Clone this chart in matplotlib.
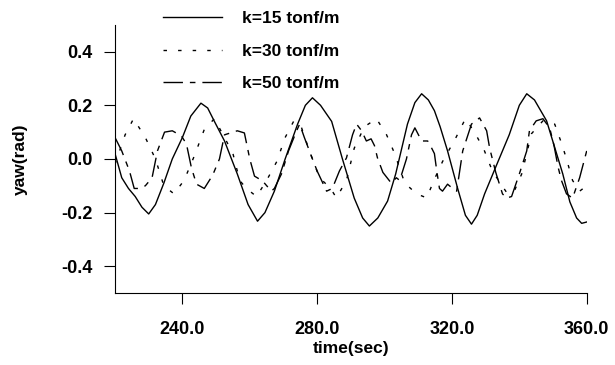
import matplotlib
matplotlib.use("Agg")
import matplotlib.pyplot as plt

plt.rcParams['font.family'] = ['Liberation Sans', 'DejaVu Sans']
plt.rcParams['font.weight'] = 'bold'

# k=15 tonf/m (solid)
t15 = [220, 222, 224, 226, 228, 230, 232, 234.5, 237, 240, 242.5, 245.5, 247.5,
       249.5, 252.5, 256.3, 259.5, 262.3, 264.5, 267.3, 270.5, 274.2, 276.5, 278.6,
       281, 284.3, 287.5, 291, 293.5, 295.5, 298, 300.9, 303.3, 306.8, 309, 311,
       313, 314.8, 316.5, 318.7, 321.7, 324, 325.8, 327.5, 329.7, 333, 337, 340,
       342.2, 344.5, 348.1, 352.9, 355, 357, 358.5, 360]
y15 = [0.02, -0.07, -0.11, -0.14, -0.18, -0.205, -0.17, -0.09, 0.0, 0.08, 0.16, 0.208, 0.19,
       0.14, 0.067, -0.056, -0.17, -0.232, -0.2, -0.12, 0.0, 0.13, 0.2, 0.228,
       0.2, 0.14, 0.0, -0.146, -0.22, -0.25, -0.22, -0.157, -0.056, 0.13, 0.21, 0.243,
       0.22, 0.18, 0.12, 0.03, -0.11, -0.21, -0.243, -0.21, -0.13, -0.03, 0.09, 0.2,
       0.243, 0.22, 0.142, -0.056, -0.16, -0.22, -0.24, -0.235]

# k=30 tonf/m (sparse dashes)
t30 = [220, 223, 225.5, 229, 232, 234.5, 237.5, 240.5, 243.5, 246.5, 249.5, 252.5,
       255, 257, 259, 262, 265, 268, 270.5, 273, 275, 277.7, 280.7, 284, 285.7,
       288.7, 291, 294, 297.6, 300.6, 303, 306, 309.5, 312.5, 315, 317.2, 321, 324,
       326.7, 329.5, 332, 336.5, 338.5, 340.7, 342, 343.6, 347, 350.5, 352.6, 354,
       355.8, 357.9, 360]
y30 = [-0.02, 0.09, 0.15, 0.08, 0.0, -0.10, -0.13, -0.08, 0.01, 0.11, 0.15, 0.08,
       0.02, -0.08, -0.11, -0.14, -0.08, -0.01, 0.08, 0.14, 0.13, 0.03, -0.07, -0.11, -0.145,
       -0.08, 0.04, 0.12, 0.15, 0.09, 0.02, -0.09, -0.13, -0.145, -0.07, -0.01, 0.075, 0.15,
       0.10, 0.035, -0.045, -0.13, -0.12, -0.056, 0.01, 0.094, 0.142, 0.13, 0.056, 0.0,
       -0.08, -0.12, -0.10]

# k=50 tonf/m (dash-dot)
t50 = [220, 222, 224.3, 225.7, 227.2, 229, 231, 232.6, 234.7, 237, 239.7, 241.2,
       242.7, 244.2, 246.5, 249, 251, 252.5, 256.3, 258.4, 260, 261.4, 263.8, 266.4,
       267.3, 269.4, 271.5, 273.9, 274.8, 276.2, 278.6, 280, 282.8, 284.5, 286.6,
       288.7, 290.5, 291.7, 293.2, 294.6, 296, 297, 297.9, 299.5, 302, 303.5, 304.5,
       306.5, 308, 309, 311, 312.8, 314, 314.8, 315.5, 316.3, 317.2, 318.7, 320.2,
       321.4, 323.2, 325.8, 328.2, 330.3, 331.2, 333, 335, 336.2, 337.7, 340, 342.2,
       343, 345, 347, 349, 350.3, 351.5, 352.5, 354, 355.8, 357.9, 360]
y50 = [0.08, 0.03, -0.045, -0.11, -0.11, -0.1, -0.07, 0.03, 0.10, 0.105, 0.086, 0.056,
       -0.034, -0.094, -0.11, -0.06, 0.0, 0.09, 0.105, 0.097, 0.0, -0.064, -0.082, -0.12,
       -0.11, -0.056, 0.03, 0.105, 0.13, 0.08, 0.0, -0.045, -0.12, -0.11, -0.045,
       0.004, 0.09, 0.13, 0.105, 0.067, 0.075, 0.05, 0.004, -0.05, -0.09, -0.07, -0.08,
       0.0, 0.09, 0.116, 0.067, 0.067, 0.04, 0.02, -0.045, -0.11, -0.12, -0.094, -0.11,
       -0.12, 0.03, 0.13, 0.153, 0.105, 0.04, -0.05, -0.13, -0.146, -0.14, -0.056, 0.03,
       0.105, 0.142, 0.15, 0.116, 0.05, -0.03, -0.08, -0.13, -0.146, -0.07, 0.03]

labels = ['k=15 tonf/m', 'k=30 tonf/m', 'k=50 tonf/m']
xticks = [240, 280, 320, 360]
yticks = [-0.4, -0.2, 0.0, 0.2, 0.4]

fig = plt.figure(figsize=(6.15, 3.65), dpi=100)
ax = fig.add_axes([0.187, 0.197, 0.767, 0.735])

ax.plot(t15, y15, color='black', lw=1.0, label=labels[0])
ax.plot(t30, y30, color='black', lw=1.0, dashes=(2.5, 8), label=labels[1])
ax.plot(t50, y50, color='black', lw=1.0, dashes=(14, 5, 4, 5), label=labels[2])

ax.set_xlim(220, 360)
ax.set_ylim(-0.5, 0.5)
ax.set_xticks(xticks)
ax.set_xticklabels(['%.1f' % v for v in xticks])
ax.set_yticks(yticks)
ax.set_yticklabels(['%.1f' % v for v in yticks])
ax.spines['top'].set_visible(False)
ax.spines['right'].set_visible(False)
ax.tick_params(axis='both', direction='out', length=8, width=0.8, labelsize=13)
ax.tick_params(axis='x', pad=12)
ax.tick_params(axis='y', pad=8)

ax.set_xlabel('time(sec)', fontsize=12.5, fontweight='bold', labelpad=2)
ax.set_ylabel('yaw(rad)', fontsize=12.5, fontweight='bold', labelpad=24)

fig.legend(loc='center left', bbox_to_anchor=(0.265, 0.86), frameon=False,
           borderpad=0, borderaxespad=0, handlelength=3.4, handletextpad=1.15,
           labelspacing=1.0, prop={'size': 12.5, 'weight': 'bold'})

fig.savefig('out.png', dpi=100)
